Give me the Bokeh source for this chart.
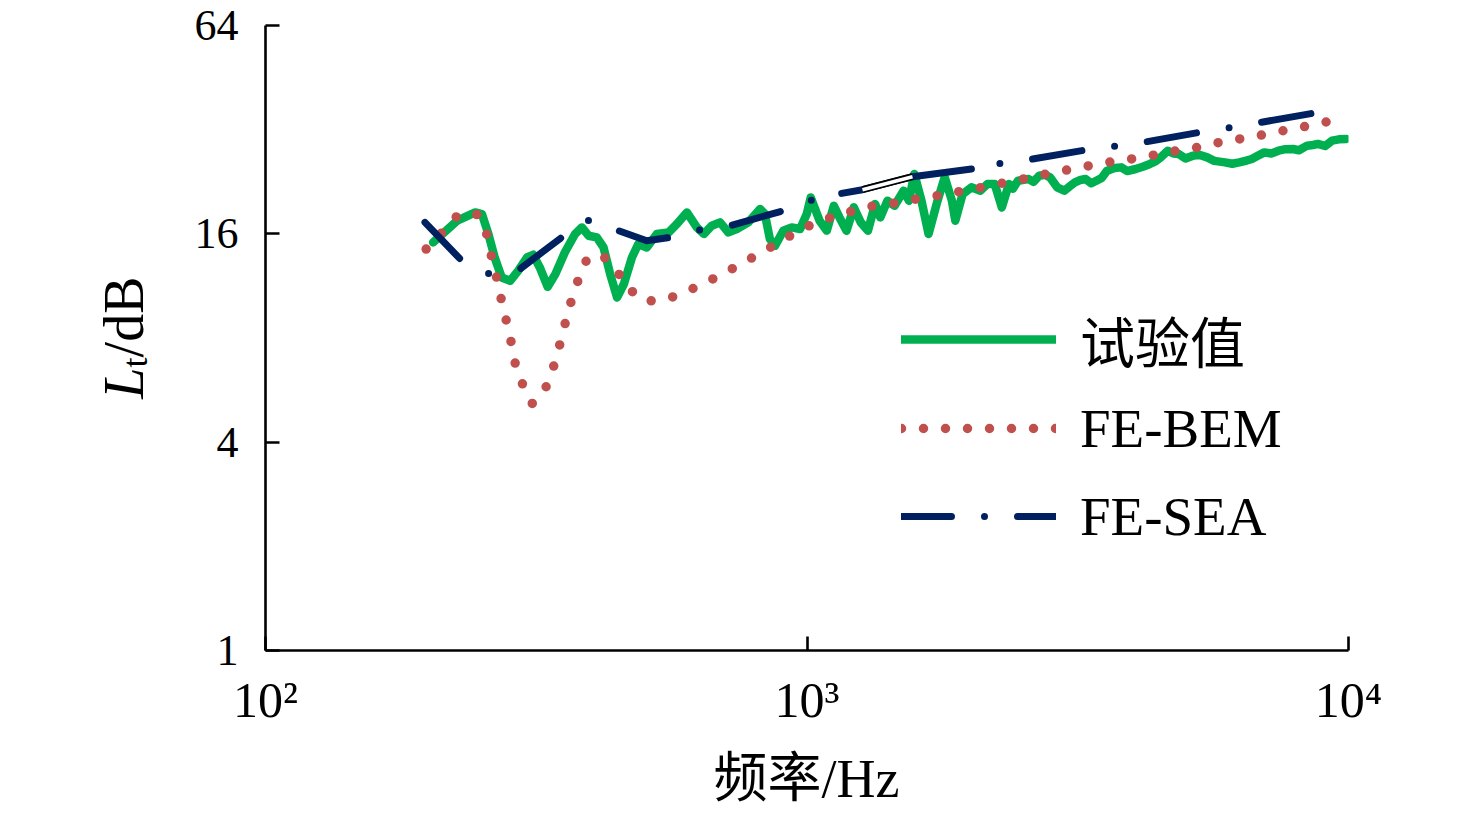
import math
from bokeh.plotting import figure
from bokeh.layouts import row, column
from bokeh.models import Range1d, FixedTicker, Legend, LegendItem, Label
from bokeh.embed import file_html
from bokeh.resources import INLINE

# ---------------- data ----------------
x_ticks = [100, 1000, 10000]
x_tick_labels = ["10²", "10³", "10⁴"]
y_ticks = [1, 4, 16, 64]
y_tick_labels = ["1", "4", "16", "64"]

series_names = ["试验值", "FE-BEM", "FE-SEA"]

# 试验值 (measurement)
test_f = [204, 226, 244, 251, 258, 265, 273, 283, 293, 304, 312, 321, 332, 343, 357, 373, 384, 395,
          409, 421, 433, 446, 459, 475, 488, 506, 528, 555, 575, 600, 626, 645, 667, 691, 716, 742,
          779, 819, 836, 854, 873, 904, 937, 971, 999, 1016, 1055, 1088, 1121, 1148, 1183, 1220,
          1257, 1296, 1336, 1366, 1408, 1451, 1508, 1543, 1578, 1627, 1677, 1742, 1796, 1852,
          1879, 1938, 2012, 2090, 2154, 2221, 2290, 2360, 2400, 2452, 2500, 2566, 2620, 2685,
          2750, 2810, 2897, 2987, 3050, 3125, 3200, 3271, 3350, 3423, 3500, 3583, 3700, 3806,
          3900, 4046, 4170, 4299, 4400, 4500, 4640, 4750, 4857, 5000, 5160, 5300, 5482, 5650,
          5915, 6100, 6284, 6450, 6629, 6800, 6991, 7200, 7427, 7650, 7894, 8100, 8386, 8600,
          8781, 9050, 9326, 9600, 9911]
test_L = [15.11, 17.46, 18.45, 18.25, 15.98, 13.67, 11.97, 11.71, 12.52, 13.67, 13.92, 12.79, 11.25,
          12.24, 14.13, 15.98, 16.70, 15.80, 15.62, 14.61, 12.24, 10.48, 11.46, 13.67, 14.95, 14.61,
          15.98, 16.15, 17.08, 18.45, 16.70, 15.98, 16.89, 17.27, 16.15, 16.52, 17.27, 18.87, 18.25,
          15.46, 14.78, 16.34, 16.70, 16.52, 18.25, 20.39, 17.46, 16.34, 19.29, 17.85, 16.34, 19.08,
          17.27, 16.34, 19.51, 17.85, 19.95, 19.29, 21.32, 19.95, 23.83, 19.95, 15.98, 19.95, 23.30,
          19.95, 17.46, 20.85, 21.80, 21.32, 22.29, 22.29, 19.08, 22.29, 21.60, 22.78, 22.90, 23.04,
          22.60, 23.56, 23.70, 23.30, 21.80, 21.32, 21.90, 22.53, 22.90, 23.04, 22.40, 22.78, 23.20,
          24.36, 24.80, 24.90, 24.30, 24.63, 25.00, 25.47, 25.90, 26.61, 27.82, 27.30, 27.22, 26.40,
          26.91, 27.10, 26.61, 26.00, 25.74, 25.50, 25.74, 26.00, 26.33, 26.90, 27.51, 27.30, 27.82,
          28.10, 28.14, 27.90, 28.77, 28.90, 29.10, 28.70, 29.74, 30.00, 30.08]

# FE-BEM
bem_f = [198, 212, 226, 245, 256, 261, 267, 272, 278, 284, 289, 298, 311, 329, 340, 349, 357, 366,
         377, 390, 417, 445, 469, 504, 552, 603, 657, 717, 778, 845, 915, 992, 1084, 1183, 1296,
         1419, 1561, 1710, 1874, 2059, 2255, 2470, 2714, 2973, 3246, 3556, 3896, 4287, 4696,
         5160, 5651, 6190, 6804, 7462, 8174, 8954, 9836]
bem_L = [14.46, 16.15, 18.05, 18.33, 16.04, 13.92, 12.02, 10.48, 9.07, 7.82, 6.78, 5.91, 5.17, 5.73,
         6.57, 7.59, 8.73, 10.09, 11.63, 13.31, 13.99, 12.52, 11.08, 10.20, 10.37, 10.95, 11.66,
         12.52, 13.44, 14.46, 15.56, 16.70, 17.66, 18.41, 19.16, 19.51, 20.08, 20.52, 21.08, 21.65,
         22.29, 22.94, 23.67, 24.36, 25.01, 25.68, 26.20, 26.86, 27.64, 28.25, 29.21, 29.94, 30.74,
         31.64, 32.49, 33.52, 34.51]

# FE-SEA
sea_f = [197, 232, 260, 295, 357, 396, 445, 506, 559, 633, 721, 904, 1020, 1159, 1266, 1566, 2012,
         2272, 2566, 3271, 3684, 4172, 5303, 5989, 6780, 8581, 9732]
sea_L = [17.27, 13.23, 12.24, 12.66, 15.87, 17.54, 16.41, 15.28, 15.62, 16.41, 16.89, 18.66, 20.04,
         20.94, 21.46, 23.40, 24.64, 25.56, 26.20, 27.95, 28.64, 29.41, 31.43, 32.36, 33.45, 35.67,
         36.97]

GREEN = "#00B050"
RED = "#C0504D"
NAVY = "#002060"
SERIF = "Liberation Serif, Noto Sans CJK SC"

TOTAL_W, TOTAL_H = 1460, 809
LAB_W = 172      # width of the strip holding the y-axis title
XLAB_H = 69      # height of the strip holding the x-axis title
MAIN_H = TOTAL_H - XLAB_H


def blank_fig(w, h):
    f = figure(width=w, height=h, x_range=Range1d(0, 1), y_range=Range1d(0, 1),
               output_backend="svg", toolbar_location=None,
               x_axis_location=None, y_axis_location=None,
               min_border_left=0, min_border_right=0, min_border_top=0, min_border_bottom=0)
    f.outline_line_color = None
    f.grid.visible = False
    f.title.visible = False
    f.frame_align = False
    return f


# ---------- y-axis title strip (rotated pieces, each anchored at its upper end) ----------
ylab = blank_fig(LAB_W, MAIN_H)
ang = math.pi / 2
ylab.add_layout(Label(x=123, y=MAIN_H - 367, x_units="screen", y_units="screen", text="L",
                      text_font="Liberation Serif", text_font_style="italic", text_font_size="56px",
                      angle=ang, text_align="right", text_baseline="middle", text_color="black"))
ylab.add_layout(Label(x=134, y=MAIN_H - 357, x_units="screen", y_units="screen", text="t",
                      text_font="Liberation Serif", text_font_size="36px",
                      angle=ang, text_align="right", text_baseline="middle", text_color="black"))
ylab.add_layout(Label(x=123, y=MAIN_H - 276, x_units="screen", y_units="screen", text="/dB",
                      text_font="Liberation Serif", text_font_size="56px",
                      angle=ang, text_align="right", text_baseline="middle", text_color="black"))

# ---------- x-axis title strip ----------
xlab = blank_fig(TOTAL_W, XLAB_H)
xlab.add_layout(Label(x=806, y=31, x_units="screen", y_units="screen", text="频率/Hz",
                      text_font=SERIF, text_font_size="54px", text_align="center",
                      text_baseline="middle", text_color="black"))

# ---------- main chart ----------
p = figure(width=TOTAL_W - LAB_W, height=MAIN_H, x_axis_type="log", y_axis_type="log",
           x_range=Range1d(100, 10000), y_range=Range1d(1, 64),
           output_backend="svg", toolbar_location=None,
           min_border_left=265 - LAB_W, min_border_right=112, min_border_top=25,
           min_border_bottom=MAIN_H - 650)
p.outline_line_color = None
p.xgrid.visible = False
p.ygrid.visible = False
p.title.visible = False
p.frame_align = False

for ax in (p.xaxis[0], p.yaxis[0]):
    ax.axis_line_width = 2.6
    ax.major_tick_line_width = 2.6
    ax.major_tick_in = 14
    ax.major_tick_out = 0
    ax.minor_tick_line_color = None
    ax.major_label_text_font = "Liberation Serif"
    ax.major_label_text_color = "black"
    ax.axis_line_color = "black"
    ax.major_tick_line_color = "black"

p.xaxis.major_label_text_font_size = "50px"
p.yaxis.major_label_text_font_size = "44px"

p.xaxis.ticker = FixedTicker(ticks=x_ticks)
p.xaxis.major_label_overrides = {t: s for t, s in zip(x_ticks, x_tick_labels)}
p.xaxis.major_label_standoff = 21
p.yaxis.ticker = FixedTicker(ticks=y_ticks)
p.yaxis.major_label_overrides = {t: s for t, s in zip(y_ticks, y_tick_labels)}
p.yaxis.major_label_standoff = 27

# series
r_test = p.line(test_f, test_L, line_color=GREEN, line_width=8.5, line_join="round", line_cap="round")
r_bem = p.line(bem_f, bem_L, line_color=RED, line_width=9.5, line_cap="round",
               line_join="round", line_dash=[0, 22])
r_sea1 = p.line(sea_f[0:14], sea_L[0:14], line_color=NAVY, line_width=7, line_cap="round",
                line_join="round", line_dash=[50, 33, 0, 33])
r_sea2 = p.line(sea_f[13:17], sea_L[13:17], line_color=NAVY, line_width=7, line_cap="round",
                line_join="round")
p.line(sea_f[14:16], sea_L[14:16], line_color="black", line_width=7, line_cap="butt")
p.line(sea_f[14:16], sea_L[14:16], line_color="white", line_width=3.5, line_cap="butt")
r_sea3 = p.line(sea_f[16:], sea_L[16:], line_color=NAVY, line_width=7, line_cap="round",
                line_join="round", line_dash=[50, 33, 0, 33], line_dash_offset=54)

legend = Legend(items=[LegendItem(label=series_names[0], renderers=[r_test]),
                       LegendItem(label=series_names[1], renderers=[r_bem]),
                       LegendItem(label=series_names[2], renderers=[r_sea1])],
                location=(636, 95), orientation="vertical",
                label_text_font=SERIF, label_text_font_size="55px", label_text_color="black",
                glyph_width=155, glyph_height=78, label_height=78, label_standoff=24,
                spacing=10, padding=0, margin=0,
                border_line_alpha=0, background_fill_alpha=0)
p.add_layout(legend, "center")

layout = column(row(ylab, p, spacing=0), xlab, spacing=0)
open("out.html", "w").write(file_html(layout, INLINE))
